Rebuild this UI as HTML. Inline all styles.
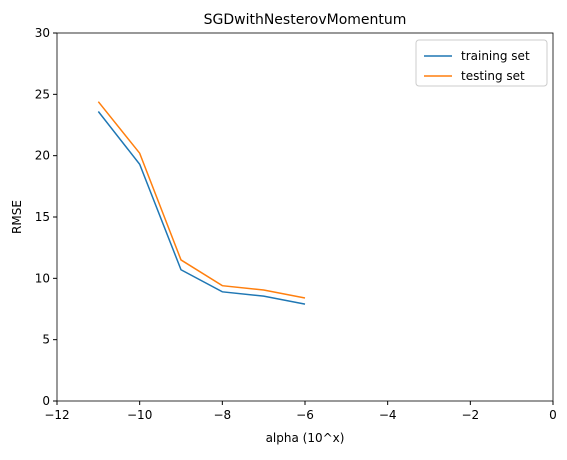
<!DOCTYPE html>
<html><head><meta charset="utf-8"><style>
body{margin:0;background:#fff;font-family:"Liberation Sans","DejaVu Sans",sans-serif;}
svg text{font-family:"DejaVu Sans","Liberation Sans",sans-serif;}
</style></head><body>
<svg id="c" width="567" height="455" xmlns="http://www.w3.org/2000/svg"></svg>
<script>
const xVals=[-11,-10,-9,-8,-7,-6];
const trainVals=[23.6,19.3,10.7,8.9,8.55,7.9];
const testVals=[24.4,20.2,11.5,9.4,9.05,8.4];
const xTicks=[-12,-10,-8,-6,-4,-2,0];
const yTicks=[0,5,10,15,20,25,30];
const L=57,R=553,T=33,B=401;
const sx=v=>L+(v+12)/12*(R-L);
const sy=v=>B-v/30*(B-T);
const svg=document.getElementById('c');
const NS='http://www.w3.org/2000/svg';
function mk(tag,attrs,parent){const e=document.createElementNS(NS,tag);for(const k in attrs)e.setAttribute(k,attrs[k]);(parent||svg).appendChild(e);return e;}
let t=mk('text',{x:(L+R)/2,y:24,'text-anchor':'middle','font-size':14,fill:'#000'});t.textContent='SGDwithNesterovMomentum';


xTicks.forEach(v=>{const g=mk('g',{});


mk('line',{x1:sx(v),x2:sx(v),y1:B,y2:B+4,stroke:'#000'},g);
const s=mk('text',{x:sx(v),y:B+18,'text-anchor':'middle','font-size':12},g);s.textContent=v<0?'\u2212'+(-v):v;});
yTicks.forEach(v=>{const g=mk('g',{});


mk('line',{x1:L-4,x2:L,y1:sy(v),y2:sy(v),stroke:'#000'},g);
const s=mk('text',{x:L-7,y:sy(v)+4,'text-anchor':'end','font-size':12},g);s.textContent=v;});
t=mk('text',{x:(L+R)/2,y:442,'text-anchor':'middle','font-size':12});t.textContent='alpha (10^x)';


t=mk('text',{x:21,y:(T+B)/2,'text-anchor':'middle','font-size':12,transform:`rotate(-90 21 ${(T+B)/2})`});t.textContent='RMSE';


function line(vals,color,name){const p=mk('polyline',{points:xVals.map((x,i)=>sx(x)+','+sy(vals[i])).join(' '),fill:'none',stroke:color,'stroke-width':1.5});

}
line(trainVals,'#1f77b4','training-line');
line(testVals,'#ff7f0e','testing-line');
const f=mk('rect',{x:L,y:T,width:R-L,height:B-T,fill:'none',stroke:'#000','stroke-width':0.8});


const lg=mk('g',{});


mk('rect',{x:416,y:40,width:131,height:46,rx:3,fill:'#fff',stroke:'#ccc'},lg);
[['training set','#1f77b4',56],['testing set','#ff7f0e',76]].forEach(([n,c,y])=>{
mk('line',{x1:424,x2:452,y1:y,y2:y,stroke:c,'stroke-width':1.5},lg);
const s=mk('text',{x:461,y:y+4,'font-size':12},lg);s.textContent=n;});
</script>
</body></html>
